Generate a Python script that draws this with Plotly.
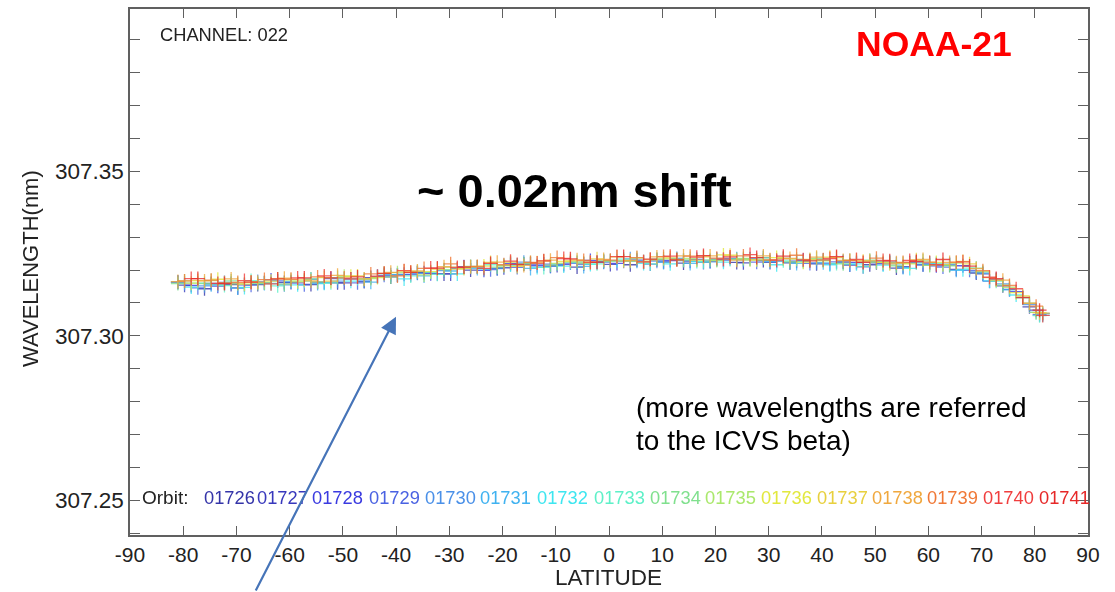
import plotly.graph_objects as go

# ---------------- data ----------------
LAT_A = [-81, -76, -71, -66, -61, -56, -51, -46, -41, -36, -31, -26, -21, -16, -11, -6, -1,
         4, 9, 14, 19, 24, 29, 34, 39, 44, 49, 54, 59, 64, 69, 74, 79]
LAT_B = [-79.75, -74.75, -69.75, -64.75, -59.75, -54.75, -49.75, -44.75, -39.75, -34.75, -29.75,
         -24.75, -19.75, -14.75, -9.75, -4.75, 0.25, 5.25, 10.25, 15.25, 20.25, 25.25, 30.25,
         35.25, 40.25, 45.25, 50.25, 55.25, 60.25, 65.25, 70.25, 75.25, 80.25]
LAT_C = [-78.5, -73.5, -68.5, -63.5, -58.5, -53.5, -48.5, -43.5, -38.5, -33.5, -28.5, -23.5,
         -18.5, -13.5, -8.5, -3.5, 1.5, 6.5, 11.5, 16.5, 21.5, 26.5, 31.5, 36.5, 41.5, 46.5,
         51.5, 56.5, 61.5, 66.5, 71.5, 76.5, 81.5]
LAT_D = [-77.25, -72.25, -67.25, -62.25, -57.25, -52.25, -47.25, -42.25, -37.25, -32.25, -27.25,
         -22.25, -17.25, -12.25, -7.25, -2.25, 2.75, 7.75, 12.75, 17.75, 22.75, 27.75, 32.75,
         37.75, 42.75, 47.75, 52.75, 57.75, 62.75, 67.75, 72.75, 77.75, 80.9]

WL_01726 = [307.3163, 307.3143, 307.3156, 307.3156, 307.3162, 307.3156, 307.3161, 307.3165, 307.3179, 307.3192, 307.3188, 307.3200, 307.3205, 307.3218, 307.3212, 307.3209, 307.3226, 307.3216, 307.3231, 307.3221, 307.3227, 307.3223, 307.3229, 307.3222, 307.3219, 307.3224, 307.3216, 307.3206, 307.3216, 307.3215, 307.3191, 307.3152, 307.3088]
WL_01727 = [307.3154, 307.3159, 307.3146, 307.3161, 307.3162, 307.3163, 307.3161, 307.3177, 307.3185, 307.3192, 307.3188, 307.3209, 307.3207, 307.3218, 307.3214, 307.3218, 307.3217, 307.3230, 307.3225, 307.3227, 307.3233, 307.3222, 307.3223, 307.3227, 307.3230, 307.3215, 307.3222, 307.3210, 307.3221, 307.3202, 307.3188, 307.3141, 307.3078]
WL_01728 = [307.3153, 307.3151, 307.3155, 307.3170, 307.3161, 307.3162, 307.3173, 307.3180, 307.3187, 307.3189, 307.3204, 307.3199, 307.3220, 307.3213, 307.3217, 307.3229, 307.3220, 307.3225, 307.3229, 307.3232, 307.3230, 307.3234, 307.3227, 307.3230, 307.3219, 307.3223, 307.3219, 307.3222, 307.3213, 307.3213, 307.3166, 307.3134, 307.3068]
WL_01729 = [307.3146, 307.3162, 307.3154, 307.3167, 307.3155, 307.3174, 307.3161, 307.3184, 307.3186, 307.3189, 307.3210, 307.3201, 307.3208, 307.3218, 307.3221, 307.3223, 307.3227, 307.3218, 307.3235, 307.3223, 307.3235, 307.3224, 307.3235, 307.3220, 307.3225, 307.3210, 307.3223, 307.3224, 307.3209, 307.3199, 307.3171, 307.3117, 307.3064]
WL_01730 = [307.3163, 307.3152, 307.3160, 307.3165, 307.3155, 307.3172, 307.3166, 307.3167, 307.3186, 307.3190, 307.3198, 307.3210, 307.3204, 307.3224, 307.3211, 307.3221, 307.3224, 307.3234, 307.3227, 307.3229, 307.3225, 307.3234, 307.3238, 307.3223, 307.3222, 307.3227, 307.3225, 307.3219, 307.3216, 307.3218, 307.3194, 307.3158, 307.3095]
WL_01731 = [307.3160, 307.3155, 307.3145, 307.3159, 307.3164, 307.3159, 307.3173, 307.3163, 307.3186, 307.3182, 307.3197, 307.3205, 307.3214, 307.3205, 307.3218, 307.3211, 307.3228, 307.3227, 307.3223, 307.3220, 307.3231, 307.3231, 307.3226, 307.3220, 307.3222, 307.3217, 307.3226, 307.3208, 307.3216, 307.3199, 307.3191, 307.3140, 307.3071]
WL_01732 = [307.3148, 307.3156, 307.3147, 307.3159, 307.3155, 307.3160, 307.3166, 307.3180, 307.3173, 307.3193, 307.3188, 307.3203, 307.3215, 307.3208, 307.3212, 307.3217, 307.3228, 307.3220, 307.3219, 307.3226, 307.3224, 307.3233, 307.3216, 307.3226, 307.3216, 307.3219, 307.3215, 307.3205, 307.3220, 307.3201, 307.3167, 307.3124, 307.3063]
WL_01733 = [307.3160, 307.3153, 307.3168, 307.3152, 307.3166, 307.3161, 307.3174, 307.3189, 307.3182, 307.3187, 307.3206, 307.3216, 307.3215, 307.3208, 307.3224, 307.3219, 307.3233, 307.3219, 307.3233, 307.3225, 307.3232, 307.3231, 307.3228, 307.3230, 307.3220, 307.3211, 307.3224, 307.3221, 307.3216, 307.3206, 307.3166, 307.3115, 307.3061]
WL_01734 = [307.3159, 307.3159, 307.3167, 307.3159, 307.3157, 307.3173, 307.3177, 307.3172, 307.3179, 307.3195, 307.3201, 307.3211, 307.3209, 307.3219, 307.3215, 307.3225, 307.3228, 307.3227, 307.3233, 307.3230, 307.3231, 307.3233, 307.3237, 307.3225, 307.3235, 307.3219, 307.3230, 307.3213, 307.3228, 307.3213, 307.3206, 307.3154, 307.3099]
WL_01735 = [307.3167, 307.3168, 307.3158, 307.3161, 307.3169, 307.3164, 307.3181, 307.3174, 307.3192, 307.3185, 307.3209, 307.3210, 307.3213, 307.3222, 307.3220, 307.3221, 307.3227, 307.3236, 307.3234, 307.3235, 307.3229, 307.3235, 307.3230, 307.3233, 307.3228, 307.3230, 307.3224, 307.3220, 307.3214, 307.3221, 307.3195, 307.3147, 307.3071]
WL_01736 = [307.3160, 307.3172, 307.3157, 307.3166, 307.3164, 307.3177, 307.3181, 307.3177, 307.3197, 307.3195, 307.3203, 307.3212, 307.3224, 307.3222, 307.3226, 307.3224, 307.3240, 307.3225, 307.3237, 307.3230, 307.3246, 307.3231, 307.3238, 307.3224, 307.3239, 307.3230, 307.3223, 307.3219, 307.3223, 307.3226, 307.3177, 307.3131, 307.3069]
WL_01737 = [307.3168, 307.3161, 307.3163, 307.3173, 307.3170, 307.3166, 307.3182, 307.3190, 307.3193, 307.3203, 307.3205, 307.3223, 307.3211, 307.3227, 307.3228, 307.3234, 307.3228, 307.3231, 307.3232, 307.3240, 307.3245, 307.3231, 307.3235, 307.3232, 307.3238, 307.3227, 307.3219, 307.3231, 307.3217, 307.3219, 307.3169, 307.3121, 307.3070]
WL_01738 = [307.3165, 307.3167, 307.3173, 307.3163, 307.3175, 307.3167, 307.3184, 307.3173, 307.3193, 307.3197, 307.3210, 307.3210, 307.3224, 307.3214, 307.3230, 307.3231, 307.3232, 307.3229, 307.3240, 307.3243, 307.3243, 307.3230, 307.3243, 307.3235, 307.3239, 307.3229, 307.3228, 307.3222, 307.3232, 307.3223, 307.3204, 307.3169, 307.3099]
WL_01739 = [307.3167, 307.3169, 307.3162, 307.3171, 307.3172, 307.3179, 307.3176, 307.3188, 307.3182, 307.3205, 307.3219, 307.3211, 307.3216, 307.3223, 307.3238, 307.3229, 307.3230, 307.3238, 307.3241, 307.3242, 307.3236, 307.3243, 307.3231, 307.3245, 307.3231, 307.3229, 307.3236, 307.3223, 307.3224, 307.3224, 307.3198, 307.3153, 307.3090]
WL_01740 = [307.3174, 307.3159, 307.3168, 307.3158, 307.3176, 307.3182, 307.3173, 307.3181, 307.3198, 307.3206, 307.3208, 307.3205, 307.3227, 307.3221, 307.3235, 307.3223, 307.3241, 307.3225, 307.3242, 307.3239, 307.3233, 307.3247, 307.3230, 307.3231, 307.3235, 307.3232, 307.3229, 307.3229, 307.3216, 307.3225, 307.3178, 307.3143, 307.3062]
WL_01741 = [307.3174, 307.3159, 307.3163, 307.3173, 307.3176, 307.3176, 307.3179, 307.3190, 307.3193, 307.3206, 307.3209, 307.3220, 307.3217, 307.3228, 307.3234, 307.3224, 307.3241, 307.3233, 307.3231, 307.3244, 307.3240, 307.3238, 307.3242, 307.3228, 307.3241, 307.3223, 307.3228, 307.3226, 307.3232, 307.3212, 307.3174, 307.3116, 307.3078]

ORBITS = ["01726", "01727", "01728", "01729", "01730", "01731", "01732", "01733",
          "01734", "01735", "01736", "01737", "01738", "01739", "01740", "01741"]
ORBIT_LAT = [LAT_A, LAT_B, LAT_C, LAT_D, LAT_A, LAT_B, LAT_C, LAT_D,
             LAT_A, LAT_B, LAT_C, LAT_D, LAT_A, LAT_B, LAT_C, LAT_D]
ORBIT_WL = [WL_01726, WL_01727, WL_01728, WL_01729, WL_01730, WL_01731, WL_01732, WL_01733,
            WL_01734, WL_01735, WL_01736, WL_01737, WL_01738, WL_01739, WL_01740, WL_01741]
ORBIT_COLORS = ["#3434a8", "#3838bc", "#3a3ae0", "#4a62e2", "#4a90e8", "#40b2f0", "#3ee6f0",
                "#5ef0c8", "#80e08e", "#aae86c", "#e2e83e", "#e8d03e", "#f0a83e", "#f07836",
                "#f03e3e", "#e62828"]

X_TICKS = [-90, -80, -70, -60, -50, -40, -30, -20, -10, 0, 10, 20, 30, 40, 50, 60, 70, 80, 90]
Y_TICKS = [307.25, 307.30, 307.35]

# ---------------- layout geometry (pixels) ----------------
W, H = 1115, 592
ML, MR, MT, MB = 130, 27, 7, 57
PW, PH = W - ML - MR, H - MT - MB
LEGEND_X = [202, 255, 310, 367, 423, 478, 535, 592, 648, 703, 759, 815, 870, 925, 981, 1037]


def px(x):
    return (x - ML) / PW


def py(y):
    return (H - MB - y) / PH


FONT = "Liberation Sans, Arial, Helvetica, sans-serif"
AXCOL = "#606060"
TXT = "#222222"

fig = go.Figure()
for name, lat, wl, col in zip(ORBITS, ORBIT_LAT, ORBIT_WL, ORBIT_COLORS):
    fig.add_trace(go.Scatter(
        x=lat, y=wl, mode="markers", name=name,
        marker=dict(symbol="cross-thin", size=10, color=col,
                    line=dict(width=1.3, color=col)),
        opacity=0.8, showlegend=False, cliponaxis=True))

ann = []
ann.append(dict(text="CHANNEL: 022", x=px(158), y=py(33), xref="paper", yref="paper",
                xanchor="left", yanchor="middle", showarrow=False,
                font=dict(family=FONT, size=18.3, color=TXT)))
ann.append(dict(text="<b>NOAA-21</b>", x=px(934), y=py(42), xref="paper", yref="paper",
                xanchor="center", yanchor="middle", showarrow=False,
                font=dict(family=FONT, size=35.5, color="#ff0000")))
ann.append(dict(text="<b>~ 0.02nm shift</b>", x=px(574), y=py(189), xref="paper", yref="paper",
                xanchor="center", yanchor="middle", showarrow=False,
                font=dict(family=FONT, size=47, color="#000000")))
ann.append(dict(text="(more wavelengths are referred", x=px(634), y=py(407),
                xref="paper", yref="paper", xanchor="left", yanchor="middle",
                showarrow=False, font=dict(family=FONT, size=28, color="#000000")))
ann.append(dict(text="to the ICVS beta)", x=px(634), y=py(440),
                xref="paper", yref="paper", xanchor="left", yanchor="middle",
                showarrow=False, font=dict(family=FONT, size=28, color="#000000")))
ann.append(dict(text="Orbit:", x=px(140), y=py(497), xref="paper", yref="paper",
                xanchor="left", yanchor="middle", showarrow=False,
                font=dict(family=FONT, size=19, color=TXT)))
for name, col, lx in zip(ORBITS, ORBIT_COLORS, LEGEND_X):
    ann.append(dict(text=name, x=px(lx), y=py(497), xref="paper", yref="paper",
                    xanchor="left", yanchor="middle", showarrow=False,
                    font=dict(family=FONT, size=18.3, color=col)))
ann.append(dict(text="LATITUDE", x=px(608), y=py(578), xref="paper", yref="paper",
                xanchor="center", yanchor="middle", showarrow=False,
                font=dict(family=FONT, size=22.5, color=TXT)))
ann.append(dict(text="WAVELENGTH(nm)", x=px(30), y=py(268), xref="paper", yref="paper",
                xanchor="center", yanchor="middle", textangle=-90, showarrow=False,
                font=dict(family=FONT, size=22, color=TXT)))
# blue arrow pointing at the band
ann.append(dict(text="", x=px(396), y=py(316), xref="paper", yref="paper",
                ax=255 - 396, ay=592 - 316, axref="pixel", ayref="pixel",
                showarrow=True, arrowhead=2, arrowsize=1.5, arrowwidth=2.2,
                arrowcolor="#4674b8", standoff=0))

fig.update_layout(
    width=W, height=H,
    margin=dict(l=ML, r=MR, t=MT, b=MB, pad=0),
    paper_bgcolor="white", plot_bgcolor="white",
    annotations=ann,
    xaxis=dict(range=[-90, 90], tickvals=X_TICKS, ticktext=[str(v) for v in X_TICKS],
               ticks="inside", ticklen=9, tickwidth=1.2, tickcolor=AXCOL,
               showline=True, linecolor=AXCOL, linewidth=1.5, mirror="ticks",
               showgrid=False, zeroline=False,
               tickfont=dict(family=FONT, size=21, color=TXT)),
    yaxis=dict(range=[307.2394, 307.3994], tickvals=Y_TICKS,
               ticktext=["%.2f" % v for v in Y_TICKS],
               ticks="inside", ticklen=10, tickwidth=1.2, tickcolor=AXCOL,
               minor=dict(dtick=0.01, tick0=307.25, ticks="inside", ticklen=10,
                          tickwidth=1.2, tickcolor=AXCOL, showgrid=False),
               showline=True, linecolor=AXCOL, linewidth=1.5, mirror="ticks",
               showgrid=False, zeroline=False,
               tickfont=dict(family=FONT, size=22.5, color=TXT)),
)

fig.write_html("out.html")
